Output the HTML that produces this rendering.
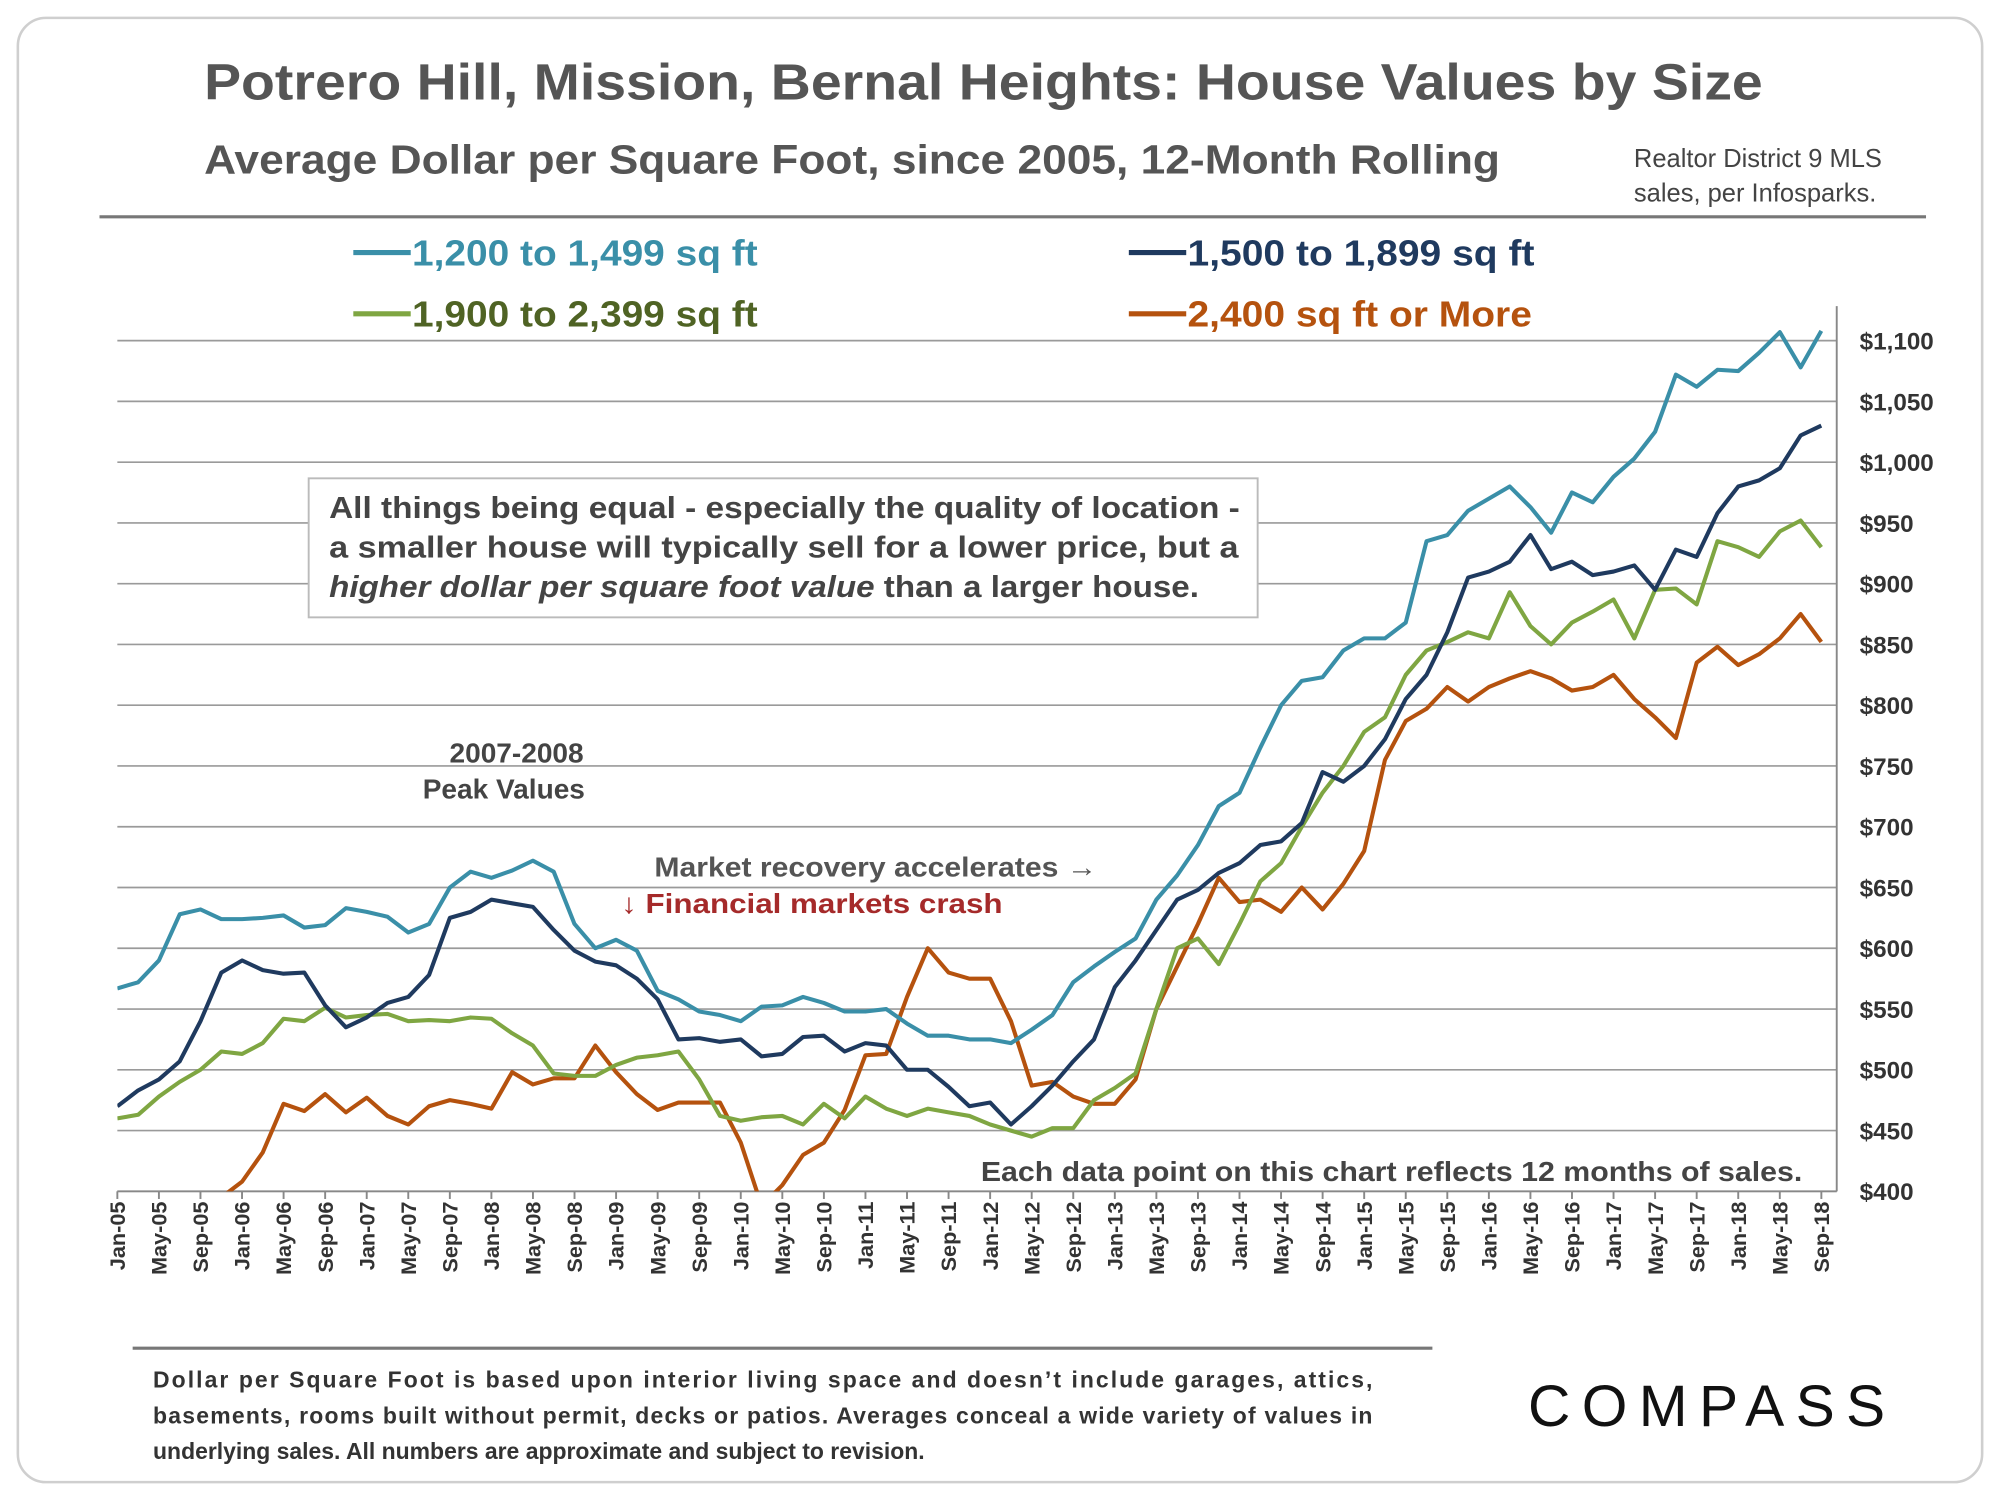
<!DOCTYPE html>
<html><head><meta charset="utf-8"><style>
html,body{margin:0;padding:0;background:#fff;}
svg{display:block;font-family:"Liberation Sans",sans-serif;}
</style></head><body>
<svg id="chart" width="2000" height="1500" viewBox="0 0 1568 1176" xmlns="http://www.w3.org/2000/svg">
<rect x="14" y="14" width="1540" height="1148" rx="22" fill="#fff" stroke="#cfcfcf" stroke-width="2"/>
<text x="160" y="78" font-size="40" font-weight="bold" fill="#555" textLength="1222" lengthAdjust="spacingAndGlyphs">Potrero Hill, Mission, Bernal Heights: House Values by Size</text>
<text x="160" y="136" font-size="32" font-weight="bold" fill="#555" textLength="1016" lengthAdjust="spacingAndGlyphs">Average Dollar per Square Foot, since 2005, 12-Month Rolling</text>
<text font-size="20" fill="#444"><tspan x="1281" y="131">Realtor District 9 MLS</tspan><tspan x="1281" y="158">sales, per Infosparks.</tspan></text>
<line x1="78" y1="170" x2="1510" y2="170" stroke="#777" stroke-width="2.5"/>
<g font-size="28" font-weight="bold">
<g><line x1="277" y1="198" x2="322" y2="198" stroke="#3a8fa8" stroke-width="4"/><text x="323" y="208" fill="#3a8fa8" textLength="271" lengthAdjust="spacingAndGlyphs">1,200 to 1,499 sq ft</text></g>
<g><line x1="885" y1="198" x2="930" y2="198" stroke="#1f3a5f" stroke-width="4"/><text x="931" y="208" fill="#1f3a5f" textLength="272" lengthAdjust="spacingAndGlyphs">1,500 to 1,899 sq ft</text></g>
<g><line x1="277" y1="246" x2="322" y2="246" stroke="#7fa642" stroke-width="4"/><text x="323" y="256" fill="#4f6324" textLength="271" lengthAdjust="spacingAndGlyphs">1,900 to 2,399 sq ft</text></g>
<g><line x1="885" y1="246" x2="930" y2="246" stroke="#b5520e" stroke-width="4"/><text x="931" y="256" fill="#b5520e" textLength="270" lengthAdjust="spacingAndGlyphs">2,400 sq ft or More</text></g>
</g>
<g id="grid"></g>
<g id="yaxis"></g>
<g id="xaxis"></g>
<defs><clipPath id="plotclip"><rect x="92" y="230" width="1350" height="704"/></clipPath></defs>
<g id="series" clip-path="url(#plotclip)"></g>
<g>
<rect x="242" y="375" width="744" height="109" fill="#fff" stroke="#bbb" stroke-width="1.5"/>
<text font-size="24" font-weight="bold" fill="#444"><tspan x="258" y="406" textLength="714" lengthAdjust="spacingAndGlyphs">All things being equal - especially the quality of location -</tspan><tspan x="258" y="437" textLength="713" lengthAdjust="spacingAndGlyphs">a smaller house will typically sell for a lower price, but a</tspan><tspan x="258" y="468" textLength="682" lengthAdjust="spacingAndGlyphs"><tspan font-style="italic">higher dollar per square foot value</tspan> than a larger house.</tspan></text>
</g>
<text font-size="22" font-weight="bold" fill="#444" text-anchor="middle"><tspan x="405" y="598">2007-2008</tspan><tspan x="395" y="626">Peak Values</tspan></text>
<text x="513" y="687" font-size="22" font-weight="bold" fill="#555" textLength="347" lengthAdjust="spacingAndGlyphs">Market recovery accelerates →</text>
<text x="487" y="716" font-size="22" font-weight="bold" fill="#a52a2a" textLength="299" lengthAdjust="spacingAndGlyphs">↓ Financial markets crash</text>
<text x="769" y="926" font-size="22" font-weight="bold" fill="#444" textLength="644" lengthAdjust="spacingAndGlyphs">Each data point on this chart reflects 12 months of sales.</text>
<line x1="104" y1="1057" x2="1123" y2="1057" stroke="#777" stroke-width="2.5"/>
<text font-size="18" font-weight="bold" fill="#333"><tspan x="120" y="1088" textLength="956" lengthAdjust="spacing">Dollar per Square Foot is based upon interior living space and doesn’t include garages, attics,</tspan><tspan x="120" y="1116" textLength="956" lengthAdjust="spacing">basements, rooms built without permit, decks or patios. Averages conceal a wide variety of values in</tspan><tspan x="120" y="1144">underlying sales. All numbers are approximate and subject to revision.</tspan></text>
<text x="1198" y="1118" font-size="46" fill="#111" textLength="286" lengthAdjust="spacing" letter-spacing="6">COMPASS</text>
</svg>
<script>
const yTicks = [400,450,500,550,600,650,700,750,800,850,900,950,1000,1050,1100];
const xMonths = ['Jan','May','Sep'];
const stepMonths = 2;
const teal = [567,572,590,628,632,624,624,625,627,617,619,633,630,626,613,620,650,663,658,664,672,663,620,600,607,598,565,558,548,545,540,552,553,560,555,548,548,550,538,528,528,525,525,522,533,545,572,585,597,608,640,660,685,717,728,765,800,820,823,845,855,855,868,935,940,960,970,980,963,942,975,967,988,1003,1025,1072,1062,1076,1075,1090,1107,1078,1108];
const navy = [470,483,492,507,540,580,590,582,579,580,553,535,543,555,560,578,625,630,640,637,634,615,598,589,586,575,558,525,526,523,525,511,513,527,528,515,522,520,500,500,486,470,473,455,470,487,507,525,568,590,615,640,648,662,670,685,688,703,745,737,750,772,805,825,860,905,910,918,940,912,918,907,910,915,895,928,922,958,980,985,995,1022,1030];
const green = [460,463,478,490,500,515,513,522,542,540,551,543,545,546,540,541,540,543,542,530,520,497,495,495,504,510,512,515,492,462,458,461,462,455,472,460,478,468,462,468,465,462,455,450,445,452,452,475,485,497,550,600,608,587,620,655,670,700,728,750,778,790,825,845,852,860,855,893,865,850,868,877,887,855,895,896,883,935,930,922,943,952,930];
const orange = [330,345,360,375,388,395,408,432,472,466,480,465,477,462,455,470,475,472,468,498,488,493,493,520,498,480,467,473,473,473,440,388,405,430,440,467,512,513,560,600,580,575,575,540,487,490,478,472,472,492,550,585,620,658,638,640,630,650,632,653,680,755,787,797,815,803,815,822,828,822,812,815,825,805,790,773,835,848,833,842,855,875,852];
const NS='http://www.w3.org/2000/svg';
const x0=92, pxPerMonth=8.146, yBase=934, pxPerDollar=47.64/50;
function xScale(m){return x0+m*pxPerMonth;}
function yScale(v){return yBase-(v-400)*pxPerDollar;}
function mk(tag,attrs,parent){const e=document.createElementNS(NS,tag);for(const k in attrs)e.setAttribute(k,attrs[k]);parent.appendChild(e);return e;}
const grid=document.getElementById('grid'),yax=document.getElementById('yaxis'),xax=document.getElementById('xaxis'),ser=document.getElementById('series');
yTicks.forEach(v=>{
  const l=mk('line',{x1:92,x2:1440,y1:yScale(v),y2:yScale(v),stroke:'#9a9a9a','stroke-width':1.3},grid);
  
  
  const t=mk('text',{x:1458,y:yScale(v)+7,'font-size':19,'font-weight':'bold',fill:'#333'},yax);
  
  
  t.textContent='$'+v.toLocaleString('en-US');
});
const ax=mk('line',{x1:1440,x2:1440,y1:240,y2:934,stroke:'#888','stroke-width':1.5},yax);


const bx=mk('line',{x1:92,x2:1440,y1:934,y2:934,stroke:'#888','stroke-width':1.5},xax);


for(let m=0;m<=164;m+=4){
  const yr=5+Math.floor(m/12), mo=xMonths[(m%12)/4];
  const x=xScale(m);
  const tk=mk('line',{x1:x,x2:x,y1:934,y2:940,stroke:'#888','stroke-width':1.5},xax);
  
  
  const t=mk('text',{x:0,y:0,'font-size':17,'font-weight':'bold',fill:'#333','text-anchor':'end',transform:`translate(${x+6},${942}) rotate(-90)`},xax);
  
  
  t.textContent=mo+'-'+String(yr).padStart(2,'0');
}
function draw(arr,color,name){
  const d=arr.map((v,i)=>(i?'L':'M')+xScale(i*stepMonths).toFixed(1)+','+yScale(v).toFixed(1)).join(' ');
  const p=mk('path',{d:d,fill:'none',stroke:color,'stroke-width':3.2,'stroke-linejoin':'round'},ser);
  
  
}
draw(orange,'#b5520e','line-2400-plus');
draw(green,'#7fa642','line-1900-2399');
draw(navy,'#1f3a5f','line-1500-1899');
draw(teal,'#3a8fa8','line-1200-1499');
</script>
</body></html>
